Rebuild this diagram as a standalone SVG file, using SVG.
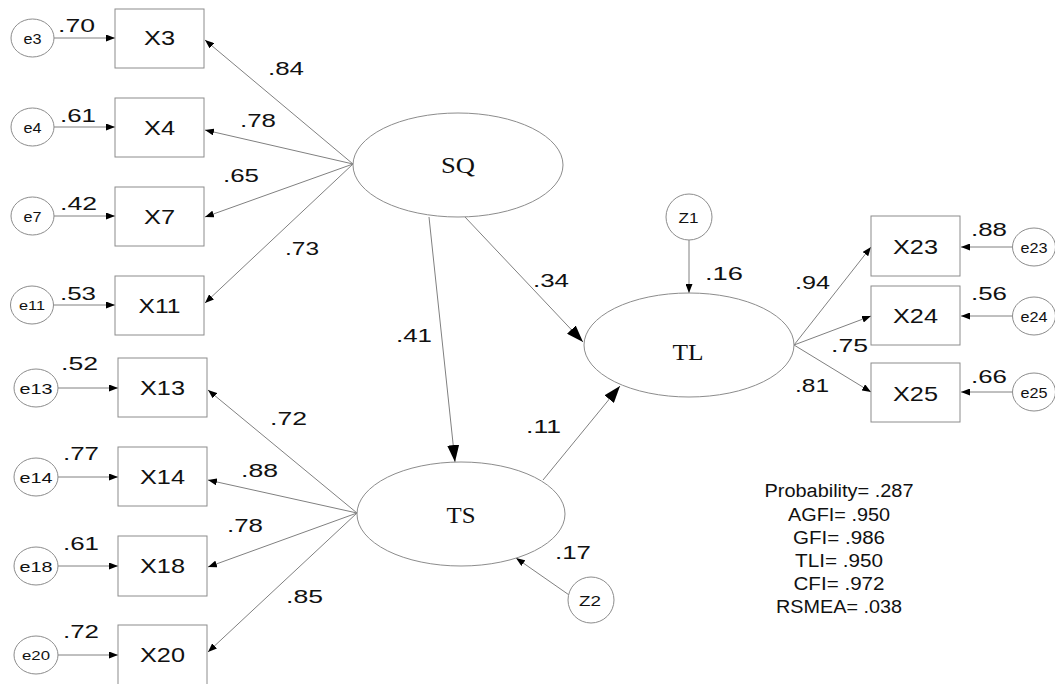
<svg xmlns="http://www.w3.org/2000/svg" width="1055" height="684" viewBox="0 0 1055 684">
<style>
.bg{fill:#fff}
.box{fill:#fff;stroke:#8c8c8c;stroke-width:1}
.err{fill:#fff;stroke:#8c8c8c;stroke-width:1}
.lat{fill:#fff;stroke:#8c8c8c;stroke-width:1}
.ln{stroke:#808080;stroke-width:1;fill:none}
.sa{marker-end:url(#sm)}
.la{marker-end:url(#lg)}
.bt{font-family:"Liberation Sans",Arial,sans-serif;font-size:21px;fill:#111;text-anchor:middle}
.et{font-family:"Liberation Sans",Arial,sans-serif;font-size:15px;fill:#111;text-anchor:middle}
.lt{font-family:"Liberation Serif","Times New Roman",serif;font-size:24px;fill:#111;text-anchor:middle}
.cf{font-family:"Liberation Sans",Arial,sans-serif;font-size:19px;fill:#111}
.fit{font-family:"Liberation Sans",Arial,sans-serif;font-size:18px;fill:#111;text-anchor:middle}
</style>
<defs>
<marker id="sm" markerUnits="userSpaceOnUse" markerWidth="9" markerHeight="7" refX="9" refY="3.5" orient="auto"><path d="M0,0 L9,3.5 L0,7 z" fill="#000"/></marker>
<marker id="lg" markerUnits="userSpaceOnUse" markerWidth="17" markerHeight="12" refX="17" refY="6" orient="auto"><path d="M0,0 L17,6 L0,12 z" fill="#000"/></marker>
</defs>
<rect class="bg" x="0" y="0" width="1055" height="684"/>

<g id="connectors">
<line class="ln sa" x1="353" y1="164" x2="205" y2="40"/>
<line class="ln sa" x1="353" y1="164" x2="205" y2="130"/>
<line class="ln sa" x1="353" y1="164" x2="205" y2="217"/>
<line class="ln sa" x1="353" y1="164" x2="205" y2="303"/>
<line class="ln sa" x1="54" y1="38" x2="115" y2="38"/>
<line class="ln sa" x1="54" y1="127" x2="115" y2="127"/>
<line class="ln sa" x1="54" y1="216" x2="115" y2="216"/>
<line class="ln sa" x1="54" y1="305" x2="115" y2="305"/>
<line class="ln sa" x1="357" y1="513" x2="208" y2="390"/>
<line class="ln sa" x1="357" y1="513" x2="208" y2="480"/>
<line class="ln sa" x1="357" y1="513" x2="208" y2="567"/>
<line class="ln sa" x1="357" y1="513" x2="208" y2="652"/>
<line class="ln sa" x1="58" y1="388" x2="118" y2="388"/>
<line class="ln sa" x1="58" y1="477" x2="118" y2="477"/>
<line class="ln sa" x1="58" y1="566" x2="118" y2="566"/>
<line class="ln sa" x1="58" y1="655" x2="118" y2="655"/>
<line class="ln la" x1="429" y1="217" x2="455" y2="462"/>
<line class="ln la" x1="465" y1="217" x2="583" y2="342"/>
<line class="ln la" x1="543" y1="480" x2="620" y2="386"/>
<line class="ln sa" x1="689" y1="240" x2="689" y2="293"/>
<line class="ln sa" x1="572" y1="597" x2="516" y2="558"/>
<line class="ln sa" x1="794" y1="345" x2="871" y2="247"/>
<line class="ln sa" x1="794" y1="345" x2="871" y2="316"/>
<line class="ln sa" x1="794" y1="345" x2="871" y2="392"/>
<line class="ln sa" x1="1012" y1="247" x2="961" y2="247"/>
<line class="ln sa" x1="1012" y1="316" x2="961" y2="316"/>
<line class="ln sa" x1="1012" y1="392" x2="961" y2="392"/>
</g>

<g id="labels">
<text class="cf" x="58" y="32" textLength="37" lengthAdjust="spacingAndGlyphs">.70</text>
<text class="cf" x="60" y="122" textLength="36" lengthAdjust="spacingAndGlyphs">.61</text>
<text class="cf" x="60" y="210" textLength="37" lengthAdjust="spacingAndGlyphs">.42</text>
<text class="cf" x="60" y="300" textLength="36" lengthAdjust="spacingAndGlyphs">.53</text>
<text class="cf" x="268" y="75" textLength="36" lengthAdjust="spacingAndGlyphs">.84</text>
<text class="cf" x="240" y="127" textLength="36" lengthAdjust="spacingAndGlyphs">.78</text>
<text class="cf" x="223" y="182" textLength="36" lengthAdjust="spacingAndGlyphs">.65</text>
<text class="cf" x="285" y="255" textLength="34" lengthAdjust="spacingAndGlyphs">.73</text>
<text class="cf" x="61" y="370" textLength="37" lengthAdjust="spacingAndGlyphs">.52</text>
<text class="cf" x="63" y="460" textLength="36" lengthAdjust="spacingAndGlyphs">.77</text>
<text class="cf" x="63" y="550" textLength="36" lengthAdjust="spacingAndGlyphs">.61</text>
<text class="cf" x="63" y="638" textLength="36" lengthAdjust="spacingAndGlyphs">.72</text>
<text class="cf" x="270" y="425" textLength="37" lengthAdjust="spacingAndGlyphs">.72</text>
<text class="cf" x="241" y="477" textLength="37" lengthAdjust="spacingAndGlyphs">.88</text>
<text class="cf" x="227" y="532" textLength="36" lengthAdjust="spacingAndGlyphs">.78</text>
<text class="cf" x="286" y="603" textLength="37" lengthAdjust="spacingAndGlyphs">.85</text>
<text class="cf" x="396" y="342" textLength="36" lengthAdjust="spacingAndGlyphs">.41</text>
<text class="cf" x="533" y="287" textLength="36" lengthAdjust="spacingAndGlyphs">.34</text>
<text class="cf" x="526" y="433" textLength="35" lengthAdjust="spacingAndGlyphs">.11</text>
<text class="cf" x="705" y="280" textLength="38" lengthAdjust="spacingAndGlyphs">.16</text>
<text class="cf" x="555" y="559" textLength="36" lengthAdjust="spacingAndGlyphs">.17</text>
<text class="cf" x="795" y="289" textLength="35" lengthAdjust="spacingAndGlyphs">.94</text>
<text class="cf" x="831" y="352" textLength="37" lengthAdjust="spacingAndGlyphs">.75</text>
<text class="cf" x="795" y="392" textLength="34" lengthAdjust="spacingAndGlyphs">.81</text>
<text class="cf" x="971" y="236" textLength="36" lengthAdjust="spacingAndGlyphs">.88</text>
<text class="cf" x="971" y="300" textLength="36" lengthAdjust="spacingAndGlyphs">.56</text>
<text class="cf" x="971" y="383" textLength="36" lengthAdjust="spacingAndGlyphs">.66</text>
</g>

<g id="X3"><rect class="box" x="115" y="9" width="89" height="59"/><text class="bt" x="159.5" y="45" textLength="31" lengthAdjust="spacingAndGlyphs">X3</text></g>
<g id="X4"><rect class="box" x="115" y="98" width="89" height="59"/><text class="bt" x="159.5" y="135" textLength="31" lengthAdjust="spacingAndGlyphs">X4</text></g>
<g id="X7"><rect class="box" x="115" y="187" width="89" height="59"/><text class="bt" x="159.5" y="224" textLength="31" lengthAdjust="spacingAndGlyphs">X7</text></g>
<g id="X11"><rect class="box" x="115" y="276" width="89" height="59"/><text class="bt" x="159.5" y="313" textLength="42" lengthAdjust="spacingAndGlyphs">X11</text></g>
<g id="X13"><rect class="box" x="118" y="358" width="89" height="59"/><text class="bt" x="162.5" y="395" textLength="45" lengthAdjust="spacingAndGlyphs">X13</text></g>
<g id="X14"><rect class="box" x="118" y="447" width="89" height="59"/><text class="bt" x="162.5" y="484" textLength="45" lengthAdjust="spacingAndGlyphs">X14</text></g>
<g id="X18"><rect class="box" x="118" y="536" width="89" height="60"/><text class="bt" x="162.5" y="573" textLength="45" lengthAdjust="spacingAndGlyphs">X18</text></g>
<g id="X20"><rect class="box" x="118" y="625" width="89" height="60"/><text class="bt" x="162.5" y="662" textLength="45" lengthAdjust="spacingAndGlyphs">X20</text></g>
<g id="X23"><rect class="box" x="871" y="216" width="89" height="60"/><text class="bt" x="915.5" y="254" textLength="45" lengthAdjust="spacingAndGlyphs">X23</text></g>
<g id="X24"><rect class="box" x="871" y="286" width="89" height="59"/><text class="bt" x="915.5" y="323" textLength="45" lengthAdjust="spacingAndGlyphs">X24</text></g>
<g id="X25"><rect class="box" x="871" y="363" width="89" height="59"/><text class="bt" x="915.5" y="401" textLength="45" lengthAdjust="spacingAndGlyphs">X25</text></g>

<g id="e3"><ellipse class="err" cx="32.5" cy="38" rx="21.5" ry="19"/><text class="et" x="32.5" y="44" textLength="18" lengthAdjust="spacingAndGlyphs">e3</text></g>
<g id="e4"><ellipse class="err" cx="32.5" cy="127" rx="21.5" ry="19"/><text class="et" x="32.5" y="133" textLength="18" lengthAdjust="spacingAndGlyphs">e4</text></g>
<g id="e7"><ellipse class="err" cx="32.5" cy="216" rx="21.5" ry="19"/><text class="et" x="32.5" y="222" textLength="18" lengthAdjust="spacingAndGlyphs">e7</text></g>
<g id="e11"><ellipse class="err" cx="32" cy="305" rx="21.5" ry="19"/><text class="et" x="32" y="310" style="font-size:13px" textLength="26" lengthAdjust="spacingAndGlyphs">e11</text></g>
<g id="e13"><ellipse class="err" cx="36" cy="388" rx="22" ry="19"/><text class="et" x="36" y="394" textLength="33" lengthAdjust="spacingAndGlyphs">e13</text></g>
<g id="e14"><ellipse class="err" cx="36" cy="477" rx="22" ry="19"/><text class="et" x="36" y="483" textLength="33" lengthAdjust="spacingAndGlyphs">e14</text></g>
<g id="e18"><ellipse class="err" cx="36" cy="566" rx="22" ry="19"/><text class="et" x="36" y="572" textLength="33" lengthAdjust="spacingAndGlyphs">e18</text></g>
<g id="e20"><ellipse class="err" cx="36" cy="655" rx="22" ry="19"/><text class="et" x="36" y="660" style="font-size:13px" textLength="28" lengthAdjust="spacingAndGlyphs">e20</text></g>
<g id="e23"><ellipse class="err" cx="1034" cy="247" rx="21.5" ry="19"/><text class="et" x="1034" y="253" textLength="27" lengthAdjust="spacingAndGlyphs">e23</text></g>
<g id="e24"><ellipse class="err" cx="1034" cy="316" rx="21.5" ry="19"/><text class="et" x="1034" y="322" textLength="27" lengthAdjust="spacingAndGlyphs">e24</text></g>
<g id="e25"><ellipse class="err" cx="1034" cy="392" rx="21.5" ry="19"/><text class="et" x="1034" y="398" textLength="27" lengthAdjust="spacingAndGlyphs">e25</text></g>

<g id="Z1"><circle class="err" cx="689" cy="217" r="23"/><text class="et" x="688.5" y="223" textLength="20" lengthAdjust="spacingAndGlyphs">Z1</text></g>
<g id="Z2"><circle class="err" cx="591" cy="600" r="23"/><text class="et" x="590" y="606" textLength="22" lengthAdjust="spacingAndGlyphs">Z2</text></g>

<g id="SQ"><ellipse class="lat" cx="458" cy="165" rx="105" ry="52"/><text class="lt" x="458" y="173" textLength="34" lengthAdjust="spacingAndGlyphs">SQ</text></g>
<g id="TS"><ellipse class="lat" cx="461" cy="514" rx="104" ry="52"/><text class="lt" x="461" y="523" textLength="29" lengthAdjust="spacingAndGlyphs">TS</text></g>
<g id="TL"><ellipse class="lat" cx="689" cy="345" rx="105" ry="52"/><text class="lt" x="688" y="360" textLength="31" lengthAdjust="spacingAndGlyphs">TL</text></g>

<g id="fit">
<text class="fit" x="839" y="497" textLength="149" lengthAdjust="spacingAndGlyphs">Probability= .287</text>
<text class="fit" x="839" y="521" textLength="102" lengthAdjust="spacingAndGlyphs">AGFI= .950</text>
<text class="fit" x="839" y="544" textLength="92" lengthAdjust="spacingAndGlyphs">GFI= .986</text>
<text class="fit" x="839" y="567" textLength="88" lengthAdjust="spacingAndGlyphs">TLI= .950</text>
<text class="fit" x="839" y="590" textLength="91" lengthAdjust="spacingAndGlyphs">CFI= .972</text>
<text class="fit" x="839" y="613" textLength="126" lengthAdjust="spacingAndGlyphs">RSMEA= .038</text>
</g>
</svg>
